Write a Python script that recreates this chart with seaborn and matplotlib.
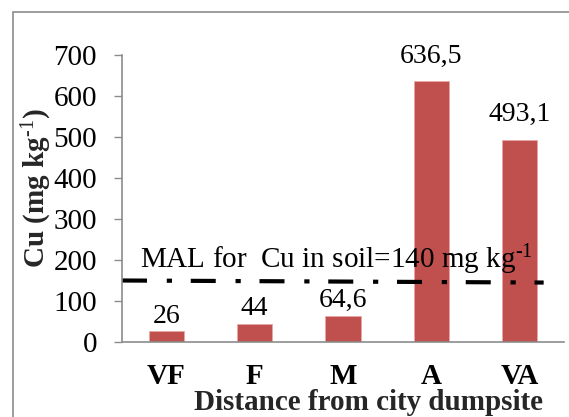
import matplotlib
matplotlib.use("Agg")
import matplotlib.pyplot as plt
import seaborn as sns
import pandas as pd
from matplotlib.patches import Rectangle

categories = ["VF", "F", "M", "A", "VA"]
cu_values = [26, 44, 64.6, 636.5, 493.1]
mal_x = [-0.5, 4.27]
mal_y = [150, 145]
mal_label = "MAL for  Cu in soil=140 mg kg$^{\\text{-1}}$"
y_ticks = [0, 100, 200, 300, 400, 500, 600, 700]

sns.set_theme(style="white")
plt.rcParams["font.family"] = ["Liberation Serif", "DejaVu Serif"]
plt.rcParams["mathtext.fontset"] = "custom"
plt.rcParams["mathtext.rm"] = "Liberation Serif"
plt.rcParams["mathtext.it"] = "Liberation Serif:italic"
plt.rcParams["mathtext.bf"] = "Liberation Serif:bold"

W, H = 569, 417
fig = plt.figure(figsize=(W / 100, H / 100), dpi=100)
ax = fig.add_axes([122 / W, 1 - 342 / H, (564 - 122) / W, (342 - 55) / H])

df = pd.DataFrame({"cat": categories, "cu": cu_values})
sns.barplot(data=df, x="cat", y="cu", color="#C0504D", width=0.4, ax=ax,
            saturation=1, edgecolor="#E8A8A6", linewidth=0.6)

ax.set_xlim(-0.5, 4.5)
ax.set_ylim(0, 700)
ax.set_yticks(y_ticks)
ax.set_yticklabels([str(t) for t in y_ticks], fontsize=21, color="black")
ax.tick_params(axis="y", length=6, width=1, color="#8c8c8c", pad=12, left=True, direction="out")
ax.tick_params(axis="x", length=0, pad=15, labelsize=21)
for lab in ax.get_xticklabels():
    lab.set_fontweight("bold")
    lab.set_color("black")
ax.set_xlabel("")
ax.set_ylabel("")
for s in ["top", "right"]:
    ax.spines[s].set_visible(False)
for s in ["left", "bottom"]:
    ax.spines[s].set_color("#8c8c8c")
    ax.spines[s].set_linewidth(1.2)

# data labels
pads = [2, 2, 2, 9, 9]
for i, (c, v) in enumerate(zip(categories, cu_values)):
    txt = f"{v:g}".replace(".", ",")
    ax.annotate(txt, (i, v), xytext=(0, pads[i]), textcoords="offset points",
                ha="center", va="bottom", fontsize=20, color="black")

# MAL line
ax.plot(mal_x, mal_y, color="black", linewidth=3, dashes=(6, 4.75, 1.25, 4.5),
        solid_capstyle="butt", dash_capstyle="butt", clip_on=False)
ax.text(-0.3, 158, mal_label, fontsize=21, color="black", ha="left", va="bottom")

fig.text(37 / W, 1 - 188 / H, "Cu (mg kg$^{\\mathbf{\\text{-1}}}$)", rotation=90, fontsize=21,
         fontweight="bold", ha="center", va="center")
fig.text(368 / W, 1 - 403 / H, "Distance from city dumpsite", fontsize=21,
         fontweight="bold", ha="center", va="center")

fig.patches.append(Rectangle((13 / W, -0.05), 1.2, 1 - 12 / H + 0.05, transform=fig.transFigure,
                             fill=False, edgecolor="#8c8c8c", linewidth=1.2))

fig.savefig("out.png", dpi=100)
